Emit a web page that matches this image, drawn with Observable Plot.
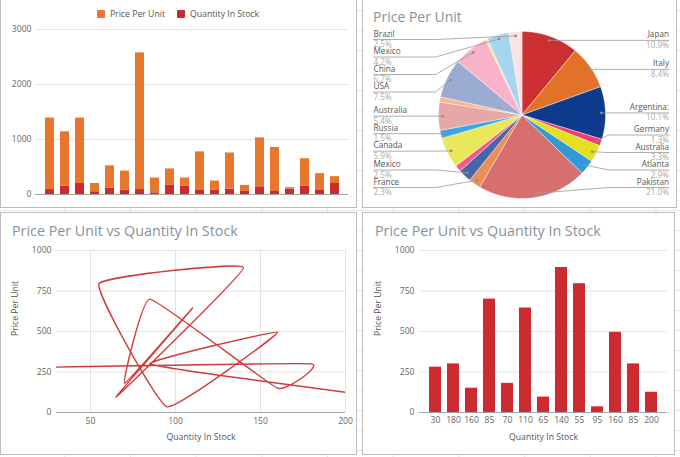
<!DOCTYPE html>
<html><head><meta charset="utf-8">
<script src="https://cdn.jsdelivr.net/npm/d3@7"></script>
<script src="https://cdn.jsdelivr.net/npm/@observablehq/plot@0.6"></script>
<style>
html,body{margin:0;padding:0;background:#fff;}
#root{position:relative;width:680px;height:457px;overflow:hidden;font-family:"Open Sans",sans-serif;
 background-color:#fff;
 background-image:linear-gradient(to bottom,#e4e4e4 1px,transparent 1px),linear-gradient(to right,#e4e4e4 1px,transparent 1px);
 background-size:100% 20px,65.7px 100%;
 background-position:0 10px,64.3px 0;}
.panel{position:absolute;border:1px solid #bcbcbc;background:#fff;box-sizing:border-box;}
.chart{position:absolute;}
.chart svg{overflow:visible;}
.title{position:absolute;font-size:14.3px;line-height:16px;color:#88919b;white-space:nowrap;}
#legend{position:absolute;left:0;top:8px;width:356px;display:flex;justify-content:center;gap:12px;font-size:8.7px;line-height:12px;color:#555;}
#legend span.sw{display:inline-block;width:8px;height:8px;margin-right:5px;vertical-align:-1px;border-radius:1px;}
</style></head>
<body>
<div id="root">
  <div class="panel" style="left:0;top:-1px;width:357px;height:209px"></div>
  <div class="panel" style="left:362px;top:-1px;width:315px;height:209px"></div>
  <div class="panel" style="left:0;top:212px;width:357px;height:243px"></div>
  <div class="panel" style="left:362px;top:212px;width:313px;height:243px"></div>
  <div class="chart" id="c1" style="left:0;top:0"></div>
  <div class="chart" id="c2" style="left:362px;top:0"></div>
  <div class="chart" id="c3" style="left:0;top:212px"></div>
  <div class="chart" id="c4" style="left:362px;top:212px"></div>
  <div id="legend"></div>
  <div class="title" style="left:373px;top:9px;font-size:14px">Price Per Unit</div>
  <div class="title" style="left:12px;top:223px">Price Per Unit vs Quantity In Stock</div>
  <div class="title" style="left:375px;top:223px">Price Per Unit vs Quantity In Stock</div>
</div>
<script>
// ---------- data ----------
const seriesNames = ["Price Per Unit", "Quantity In Stock"];
const seriesColors = ["#e8772e", "#cd2a30"];
const stockPrice = [1300, 990, 1190, 150, 405, 350, 2485, 270, 290, 150, 690, 170, 655, 110, 890, 800, 30, 500, 295, 125];
const stockQty   = [90, 150, 200, 50, 115, 75, 90, 30, 175, 150, 85, 75, 100, 55, 140, 55, 95, 150, 85, 200];

const pieNames  = ["Japan", "Italy", "Argentina:", "Germany", "Australia", "Atlanta", "Pakistan", "France", "Mexico", "", "Canada", "Russia", "Australia", "", "USA", "China", "", "Mexico", "Brazil"];
const pieShares = [10.9, 8.4, 10.1, 1.3, 3.3, 2.9, 21.0, 2.3, 2.5, 1.25, 5.9, 1.5, 5.4, 1.0, 7.5, 6.7, 0.4, 4.2, 2.5];
const pieColors = ["#cc2f30", "#e2712a", "#0c3a8c", "#f23c6c", "#e4e01f", "#2c9bd8", "#d86f6f", "#ea8f55", "#4765a8", "#f25c8c", "#ebe75a", "#3ba7e0", "#e6a7a7", "#f6b98f", "#9bacd2", "#f8b2ca", "#f5e67a", "#a7d5f0", "#fbe3e3"];

const qtyInStock   = [30, 180, 160, 85, 70, 110, 65, 140, 55, 95, 160, 85, 200];
const pricePerUnit = [280, 300, 150, 700, 180, 645, 95, 895, 795, 35, 495, 300, 125];

const yTicksPU = [0, 250, 500, 750, 1000];
const xTicksQ = [50, 100, 150, 200];

// ---------- common ----------
const baseStyle = {fontFamily: "Open Sans", fontSize: "8.6px", color: "#666", background: "transparent", overflow: "visible"};
const gridColor = "#e3e3e3";

// ---------- legend ----------
const leg = document.getElementById("legend");
seriesNames.forEach((n, k) => {
  const it = document.createElement("div");
  it.innerHTML = `<span class="sw" style="background:${seriesColors[k]}"></span>${n}`;
  leg.appendChild(it);
});

// ---------- chart 1: stacked bars ----------
const idx1 = d3.range(stockPrice.length);
const rows1 = [];
idx1.forEach(i => rows1.push({i, series: "Quantity In Stock", value: stockQty[i]}));
idx1.forEach(i => rows1.push({i, series: "Price Per Unit", value: stockPrice[i]}));

document.getElementById("c1").appendChild(Plot.plot({
  width: 356, height: 207, marginLeft: 35, marginRight: 8, marginTop: 29, marginBottom: 13,
  style: baseStyle,
  x: {type: "band", domain: idx1, paddingInner: 0.4, paddingOuter: 0.35, axis: null},
  y: {domain: [0, 3000], axis: null},
  color: {domain: seriesNames, range: seriesColors},
  marks: [
    Plot.gridY({ticks: [1000, 2000, 3000], stroke: gridColor, strokeOpacity: 1}),
    Plot.axisY({ticks: [0, 1000, 2000, 3000], tickSize: 0, tickPadding: 4, tickFormat: d => String(d), label: null}),
    Plot.barY(rows1, {x: "i", y: "value", fill: "series"}),
    Plot.ruleY([0], {stroke: "#a3a3a3"})
  ]
}));

// ---------- chart 2: pie ----------
const W2 = 314, H2 = 207, CX = 159.5, CY = 114.5, R = 83.5;
const pieTotal = d3.sum(pieShares);
let acc = 0;
const slices = pieShares.map((s, i) => {
  const a0 = acc / pieTotal * 2 * Math.PI; acc += s;
  const a1 = acc / pieTotal * 2 * Math.PI;
  return {i, a0, a1, name: pieNames[i], share: s, color: pieColors[i]};
});
const piePts = [];
for (const s of slices) {
  piePts.push({id: s.i, u: 0, v: 0, c: s.color});
  const n = Math.max(2, Math.ceil((s.a1 - s.a0) / (Math.PI / 360)));
  for (let k = 0; k <= n; k++) {
    const a = s.a0 + (s.a1 - s.a0) * k / n;
    piePts.push({id: s.i, u: Math.sin(a), v: Math.cos(a), c: s.color});
  }
  piePts.push({id: s.i, u: 0, v: 0, c: s.color});
}
// label layout
const labeled = slices.filter(s => s.name !== "").map(s => {
  const m = (s.a0 + s.a1) / 2;
  const du = 0.95 * Math.sin(m), dv = 0.95 * Math.cos(m);
  return {...s, m, du, dv, side: Math.sin(m) >= 0 ? 1 : -1, py: CY - dv * R};
});
const GAP = 17.5, TOP = 39, BOT = 187;
for (const side of [1, -1]) {
  const g = labeled.filter(d => d.side === side).sort((a, b) => a.py - b.py);
  let prev = -Infinity;
  g.forEach(d => { d.ly = Math.max(d.py, prev + GAP, TOP); prev = d.ly; });
  let next = Infinity;
  for (let k = g.length - 1; k >= 0; k--) { g[k].ly = Math.min(g[k].ly, next - GAP, BOT); next = g[k].ly; }
}
const LX_LEFT = (11 - CX) / R, LX_RIGHT = (306.5 - CX) / R;
labeled.forEach(d => {
  d.lv = (CY - d.ly) / R;
  d.lu = d.side > 0 ? LX_RIGHT : LX_LEFT;
  d.eu = d.side * (R + 3) / R;
  d.pct = d.share.toFixed(1) + "%";
});
const leaders = [];
labeled.forEach(d => {
  leaders.push({id: d.i, u: d.du, v: d.dv});
  leaders.push({id: d.i, u: d.eu, v: d.lv});
  leaders.push({id: d.i, u: d.lu, v: d.lv});
});
const leftL = labeled.filter(d => d.side < 0), rightL = labeled.filter(d => d.side > 0);

document.getElementById("c2").appendChild(Plot.plot({
  width: W2, height: H2, marginLeft: 0, marginRight: 0, marginTop: 0, marginBottom: 0,
  style: baseStyle,
  x: {domain: [-CX / R, (W2 - CX) / R], axis: null},
  y: {domain: [(CY - H2) / R, CY / R], axis: null},
  color: {type: "identity"},
  marks: [
    Plot.line(piePts, {x: "u", y: "v", z: "id", fill: "c", stroke: "#ffffff", strokeWidth: 0.4, curve: "linear"}),
    Plot.line(leaders, {x: "u", y: "v", z: "id", stroke: "#9a9a9a", strokeWidth: 0.8}),
    Plot.dot(labeled, {x: "du", y: "dv", r: 1.3, fill: "#8a8a8a", stroke: "none"}),
    Plot.text(leftL, {x: "lu", y: "lv", text: "name", textAnchor: "start", dy: -5.6, fill: "#555", fontSize: 8.2}),
    Plot.text(leftL, {x: "lu", y: "lv", text: "pct", textAnchor: "start", dy: 4.9, fill: "#aaa", fontSize: 8.2}),
    Plot.text(rightL, {x: "lu", y: "lv", text: "name", textAnchor: "end", dy: -5.6, fill: "#555", fontSize: 8.2}),
    Plot.text(rightL, {x: "lu", y: "lv", text: "pct", textAnchor: "end", dy: 4.9, fill: "#aaa", fontSize: 8.2})
  ]
}));

// ---------- chart 3: line ----------
const lineRows = qtyInStock.map((q, i) => ({q, p: pricePerUnit[i]}));
document.getElementById("c3").appendChild(Plot.plot({
  width: 356, height: 242, marginLeft: 56, marginRight: 11, marginTop: 38, marginBottom: 42,
  style: baseStyle,
  x: {domain: [30, 200], axis: null},
  y: {domain: [0, 1000], axis: null},
  marks: [
    Plot.gridY({ticks: yTicksPU.slice(1), stroke: gridColor, strokeOpacity: 1}),
    Plot.gridX({ticks: xTicksQ, stroke: gridColor, strokeOpacity: 1}),
    Plot.axisY({ticks: yTicksPU, tickSize: 0, tickPadding: 5, tickFormat: d => String(d), label: null}),
    Plot.axisX({ticks: xTicksQ, tickSize: 0, tickPadding: 5, tickFormat: d => String(d), label: null}),
    Plot.ruleY([0], {stroke: "#a3a3a3"}),
    Plot.line(lineRows, {x: "q", y: "p", curve: "cardinal", tension: 0.68, stroke: "#d23a3a", strokeWidth: 1.4, clip: true}),
    Plot.text(["Quantity In Stock"], {frameAnchor: "bottom", dy: 27, text: d => d, fill: "#555", fontSize: 8.7}),
    Plot.text(["Price Per Unit"], {frameAnchor: "left", dx: -41, dy: 4.5, rotate: -90, text: d => d, fill: "#555", fontSize: 8.7})
  ]
}));

// ---------- chart 4: bars ----------
const idx4 = d3.range(qtyInStock.length);
document.getElementById("c4").appendChild(Plot.plot({
  width: 312, height: 242, marginLeft: 57, marginRight: 7, marginTop: 38, marginBottom: 42,
  style: baseStyle,
  x: {type: "band", domain: idx4, paddingInner: 0.357, paddingOuter: 0.33, axis: null},
  y: {domain: [0, 1000], axis: null},
  marks: [
    Plot.gridY({ticks: yTicksPU.slice(1), stroke: gridColor, strokeOpacity: 1}),
    Plot.axisY({ticks: yTicksPU, tickSize: 0, tickPadding: 5, tickFormat: d => String(d), label: null}),
    Plot.axisX({tickSize: 0, tickPadding: 4, tickFormat: i => String(qtyInStock[i]), label: null}),
    Plot.barY(idx4, {x: d => d, y: i => pricePerUnit[i], fill: "#cd2b30"}),
    Plot.ruleY([0], {stroke: "#a3a3a3"}),
    Plot.text(["Quantity In Stock"], {frameAnchor: "bottom", dy: 27, text: d => d, fill: "#555", fontSize: 8.7}),
    Plot.text(["Price Per Unit"], {frameAnchor: "left", dx: -41, dy: 4.5, rotate: -90, text: d => d, fill: "#555", fontSize: 8.7})
  ]
}));
</script>
</body></html>
